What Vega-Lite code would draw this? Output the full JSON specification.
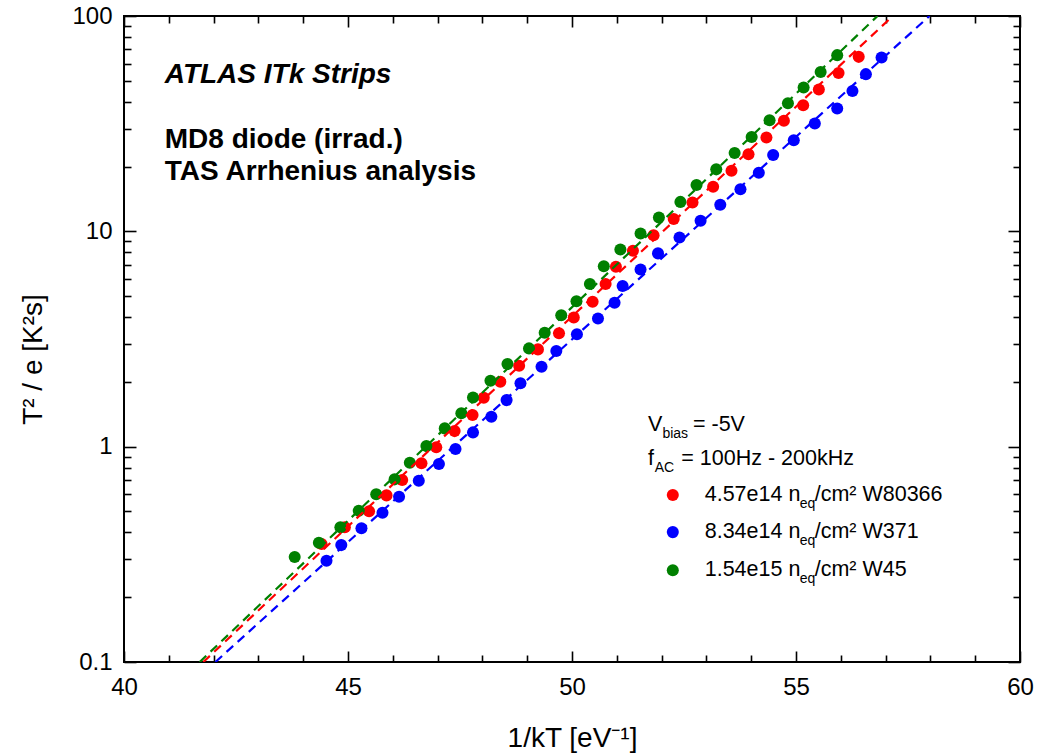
{
  "$schema": "https://vega.github.io/schema/vega-lite/v6.json",
  "width": 896,
  "height": 646,
  "autosize": "none",
  "padding": {"left": 124, "top": 16, "right": 28, "bottom": 94},
  "background": "white",
  "config": {
    "view": {"stroke": "black", "strokeWidth": 2},
    "font": "Liberation Sans",
    "axis": {"domain": false, "grid": false, "labelFont": "Liberation Sans", "labelColor": "black", "labelFontSize": 24, "labelFlush": false, "labelOverlap": false, "tickColor": "black", "tickWidth": 1.6, "titleFont": "Liberation Sans", "titleFontWeight": "normal", "titleColor": "black", "titleFontSize": 28}
  },
  "datasets": {
    "pts": [
      {"s": "W80366", "x": 44.41, "y": 0.353}, {"s": "W80366", "x": 44.93, "y": 0.422}, {"s": "W80366", "x": 45.47, "y": 0.501}, {"s": "W80366", "x": 45.86, "y": 0.594}, {"s": "W80366", "x": 46.21, "y": 0.700}, {"s": "W80366", "x": 46.64, "y": 0.837}, {"s": "W80366", "x": 46.97, "y": 0.993}, {"s": "W80366", "x": 47.38, "y": 1.181}, {"s": "W80366", "x": 47.78, "y": 1.402}, {"s": "W80366", "x": 48.03, "y": 1.686}, {"s": "W80366", "x": 48.40, "y": 2.001}, {"s": "W80366", "x": 48.82, "y": 2.374}, {"s": "W80366", "x": 49.24, "y": 2.83}, {"s": "W80366", "x": 49.71, "y": 3.36}, {"s": "W80366", "x": 50.04, "y": 3.98}, {"s": "W80366", "x": 50.46, "y": 4.71}, {"s": "W80366", "x": 50.75, "y": 5.69}, {"s": "W80366", "x": 50.98, "y": 6.84}, {"s": "W80366", "x": 51.36, "y": 8.12}, {"s": "W80366", "x": 51.82, "y": 9.60}, {"s": "W80366", "x": 52.27, "y": 11.4}, {"s": "W80366", "x": 52.69, "y": 13.6}, {"s": "W80366", "x": 53.15, "y": 16.1}, {"s": "W80366", "x": 53.56, "y": 19.1}, {"s": "W80366", "x": 53.94, "y": 22.8}, {"s": "W80366", "x": 54.34, "y": 27.3}, {"s": "W80366", "x": 54.73, "y": 32.6}, {"s": "W80366", "x": 55.16, "y": 38.5}, {"s": "W80366", "x": 55.51, "y": 45.6}, {"s": "W80366", "x": 55.95, "y": 54.4}, {"s": "W80366", "x": 56.40, "y": 64.6},
      {"s": "W371", "x": 44.52, "y": 0.295}, {"s": "W371", "x": 44.85, "y": 0.349}, {"s": "W371", "x": 45.30, "y": 0.418}, {"s": "W371", "x": 45.77, "y": 0.493}, {"s": "W371", "x": 46.14, "y": 0.585}, {"s": "W371", "x": 46.58, "y": 0.694}, {"s": "W371", "x": 47.03, "y": 0.830}, {"s": "W371", "x": 47.40, "y": 0.975}, {"s": "W371", "x": 47.79, "y": 1.165}, {"s": "W371", "x": 48.20, "y": 1.376}, {"s": "W371", "x": 48.54, "y": 1.645}, {"s": "W371", "x": 48.85, "y": 1.968}, {"s": "W371", "x": 49.32, "y": 2.35}, {"s": "W371", "x": 49.65, "y": 2.78}, {"s": "W371", "x": 50.11, "y": 3.33}, {"s": "W371", "x": 50.58, "y": 3.94}, {"s": "W371", "x": 50.95, "y": 4.66}, {"s": "W371", "x": 51.13, "y": 5.57}, {"s": "W371", "x": 51.53, "y": 6.65}, {"s": "W371", "x": 51.92, "y": 7.90}, {"s": "W371", "x": 52.40, "y": 9.37}, {"s": "W371", "x": 52.87, "y": 11.2}, {"s": "W371", "x": 53.31, "y": 13.3}, {"s": "W371", "x": 53.76, "y": 15.7}, {"s": "W371", "x": 54.17, "y": 18.7}, {"s": "W371", "x": 54.49, "y": 22.6}, {"s": "W371", "x": 54.95, "y": 26.5}, {"s": "W371", "x": 55.42, "y": 31.7}, {"s": "W371", "x": 55.92, "y": 37.2}, {"s": "W371", "x": 56.26, "y": 44.8}, {"s": "W371", "x": 56.56, "y": 53.7}, {"s": "W371", "x": 56.91, "y": 64.2},
      {"s": "W45", "x": 43.81, "y": 0.307}, {"s": "W45", "x": 44.35, "y": 0.358}, {"s": "W45", "x": 44.83, "y": 0.422}, {"s": "W45", "x": 45.24, "y": 0.504}, {"s": "W45", "x": 45.63, "y": 0.601}, {"s": "W45", "x": 46.04, "y": 0.705}, {"s": "W45", "x": 46.38, "y": 0.842}, {"s": "W45", "x": 46.75, "y": 1.006}, {"s": "W45", "x": 47.16, "y": 1.216}, {"s": "W45", "x": 47.53, "y": 1.428}, {"s": "W45", "x": 47.79, "y": 1.693}, {"s": "W45", "x": 48.18, "y": 2.023}, {"s": "W45", "x": 48.56, "y": 2.418}, {"s": "W45", "x": 49.04, "y": 2.86}, {"s": "W45", "x": 49.39, "y": 3.38}, {"s": "W45", "x": 49.76, "y": 4.08}, {"s": "W45", "x": 50.10, "y": 4.74}, {"s": "W45", "x": 50.40, "y": 5.69}, {"s": "W45", "x": 50.71, "y": 6.89}, {"s": "W45", "x": 51.08, "y": 8.24}, {"s": "W45", "x": 51.53, "y": 9.78}, {"s": "W45", "x": 51.94, "y": 11.6}, {"s": "W45", "x": 52.42, "y": 13.7}, {"s": "W45", "x": 52.78, "y": 16.4}, {"s": "W45", "x": 53.22, "y": 19.4}, {"s": "W45", "x": 53.63, "y": 23.1}, {"s": "W45", "x": 54.01, "y": 27.4}, {"s": "W45", "x": 54.41, "y": 32.8}, {"s": "W45", "x": 54.82, "y": 39.3}, {"s": "W45", "x": 55.17, "y": 46.6}, {"s": "W45", "x": 55.55, "y": 55.0}, {"s": "W45", "x": 55.92, "y": 65.8}
    ],
    "fits": [
      {"s": "W80366", "x": 41.77, "y": 0.1}, {"s": "W80366", "x": 57.16, "y": 100},
      {"s": "W371", "x": 42.04, "y": 0.1}, {"s": "W371", "x": 57.98, "y": 100},
      {"s": "W45", "x": 41.69, "y": 0.1}, {"s": "W45", "x": 56.82, "y": 100}
    ],
    "head1": [{"x": 40.91, "y": 53.1, "t": "ATLAS ITk Strips"}],
    "head2": [{"x": 40.91, "y": 26.5, "t": "MD8 diode (irrad.)"}, {"x": 40.91, "y": 18.8, "t": "TAS Arrhenius analysis"}],
    "legMain": [
      {"x": 51.696, "y": 1.26, "t": "V"}, {"x": 52.70, "y": 1.26, "t": "= -5V"},
      {"x": 51.696, "y": 0.876, "t": "f"}, {"x": 52.44, "y": 0.876, "t": "= 100Hz - 200kHz"},
      {"x": 52.962, "y": 0.596, "t": "4.57e14 n"}, {"x": 55.417, "y": 0.596, "t": "/cm² W80366"},
      {"x": 52.962, "y": 0.401, "t": "8.34e14 n"}, {"x": 55.417, "y": 0.401, "t": "/cm² W371"},
      {"x": 52.962, "y": 0.267, "t": "1.54e15 n"}, {"x": 55.417, "y": 0.267, "t": "/cm² W45"}
    ],
    "legSub": [
      {"x": 52.018, "y": 1.26, "t": "bias"}, {"x": 51.846, "y": 0.876, "t": "AC"},
      {"x": 55.083, "y": 0.596, "t": "eq"}, {"x": 55.083, "y": 0.401, "t": "eq"}, {"x": 55.083, "y": 0.267, "t": "eq"}
    ],
    "legDots": [
      {"s": "W80366", "x": 52.25, "y": 0.596}, {"s": "W371", "x": 52.25, "y": 0.401}, {"s": "W45", "x": 52.25, "y": 0.267}
    ]
  },
  "resolve": {"axis": {"x": "independent", "y": "independent"}},
  "layer": [
    {
      "data": {"name": "pts"},
      "mark": {"type": "circle", "size": 145, "opacity": 1},
      "encoding": {
        "x": {"field": "x", "type": "quantitative", "scale": {"domain": [40, 60], "nice": false, "zero": false},
              "axis": {"orient": "bottom", "values": [40, 45, 50, 55, 60], "ticks": false, "labelPadding": 13, "title": "1/kT [eV⁻¹]", "titleBaseline": "middle", "titleY": 76}},
        "y": {"field": "y", "type": "quantitative", "scale": {"type": "log", "domain": [0.1, 100], "nice": false},
              "axis": {"orient": "left", "values": [0.1, 1, 10, 100], "format": "~g", "ticks": false, "labelPadding": 12, "title": "T² / e [K²s]", "titleAngle": -90, "titleBaseline": "middle", "titleAlign": "center", "titleX": -91, "titleY": 343}},
        "color": {"field": "s", "type": "nominal", "scale": {"domain": ["W80366", "W371", "W45"], "range": ["#ff0000", "#0000ff", "#008000"]}, "legend": null}
      }
    },
    {
      "data": {"name": "fits"},
      "mark": {"type": "line", "strokeDash": [9, 6], "strokeWidth": 2.2, "clip": true},
      "encoding": {
        "x": {"field": "x", "type": "quantitative", "scale": {"domain": [40, 60], "nice": false, "zero": false},
              "axis": {"orient": "bottom", "values": [40, 45, 50, 55, 60], "tickSize": -11, "labels": false, "title": null}},
        "y": {"field": "y", "type": "quantitative", "scale": {"type": "log", "domain": [0.1, 100], "nice": false},
              "axis": {"orient": "left", "values": [0.1, 1, 10, 100], "tickSize": -12, "labels": false, "title": null}},
        "color": {"field": "s", "type": "nominal", "scale": {"domain": ["W80366", "W371", "W45"], "range": ["#ff0000", "#0000ff", "#008000"]}, "legend": null}
      }
    },
    {
      "data": {"name": "head1"},
      "mark": {"type": "text", "font": "Liberation Sans", "fontSize": 28, "fontWeight": "bold", "fontStyle": "italic", "align": "left", "baseline": "middle", "color": "black"},
      "encoding": {
        "x": {"field": "x", "type": "quantitative", "scale": {"domain": [40, 60], "nice": false, "zero": false},
              "axis": {"orient": "bottom", "values": [41, 42, 43, 44, 46, 47, 48, 49, 51, 52, 53, 54, 56, 57, 58, 59], "tickSize": -7, "labels": false, "title": null}},
        "y": {"field": "y", "type": "quantitative", "scale": {"type": "log", "domain": [0.1, 100], "nice": false},
              "axis": {"orient": "left", "values": [0.2, 0.3, 0.4, 0.5, 0.6, 0.7, 0.8, 0.9, 2, 3, 4, 5, 6, 7, 8, 9, 20, 30, 40, 50, 60, 70, 80, 90], "tickSize": -7, "labels": false, "title": null}},
        "text": {"field": "t"}
      }
    },
    {
      "data": {"name": "head2"},
      "mark": {"type": "text", "font": "Liberation Sans", "fontSize": 28, "fontWeight": "bold", "align": "left", "baseline": "middle", "color": "black"},
      "encoding": {
        "x": {"field": "x", "type": "quantitative", "scale": {"domain": [40, 60], "nice": false, "zero": false},
              "axis": {"orient": "top", "values": [40, 45, 50, 55, 60], "tickSize": -11, "labels": false, "title": null}},
        "y": {"field": "y", "type": "quantitative", "scale": {"type": "log", "domain": [0.1, 100], "nice": false},
              "axis": {"orient": "right", "values": [0.1, 1, 10, 100], "tickSize": -12, "labels": false, "title": null}},
        "text": {"field": "t"}
      }
    },
    {
      "data": {"name": "legMain"},
      "mark": {"type": "text", "font": "Liberation Sans", "fontSize": 21.5, "align": "left", "baseline": "middle", "color": "black"},
      "encoding": {
        "x": {"field": "x", "type": "quantitative", "scale": {"domain": [40, 60], "nice": false, "zero": false},
              "axis": {"orient": "top", "values": [41, 42, 43, 44, 46, 47, 48, 49, 51, 52, 53, 54, 56, 57, 58, 59], "tickSize": -7, "labels": false, "title": null}},
        "y": {"field": "y", "type": "quantitative", "scale": {"type": "log", "domain": [0.1, 100], "nice": false},
              "axis": {"orient": "right", "values": [0.2, 0.3, 0.4, 0.5, 0.6, 0.7, 0.8, 0.9, 2, 3, 4, 5, 6, 7, 8, 9, 20, 30, 40, 50, 60, 70, 80, 90], "tickSize": -7, "labels": false, "title": null}},
        "text": {"field": "t"}
      }
    },
    {
      "data": {"name": "legSub"},
      "mark": {"type": "text", "font": "Liberation Sans", "fontSize": 14, "align": "left", "baseline": "middle", "dy": 9, "color": "black"},
      "encoding": {
        "x": {"field": "x", "type": "quantitative", "scale": {"domain": [40, 60], "nice": false, "zero": false}, "axis": null},
        "y": {"field": "y", "type": "quantitative", "scale": {"type": "log", "domain": [0.1, 100], "nice": false}, "axis": null},
        "text": {"field": "t"}
      }
    },
    {
      "data": {"name": "legDots"},
      "mark": {"type": "circle", "size": 145, "opacity": 1},
      "encoding": {
        "x": {"field": "x", "type": "quantitative", "scale": {"domain": [40, 60], "nice": false, "zero": false}, "axis": null},
        "y": {"field": "y", "type": "quantitative", "scale": {"type": "log", "domain": [0.1, 100], "nice": false}, "axis": null},
        "color": {"field": "s", "type": "nominal", "scale": {"domain": ["W80366", "W371", "W45"], "range": ["#ff0000", "#0000ff", "#008000"]}, "legend": null}
      }
    }
  ]
}
